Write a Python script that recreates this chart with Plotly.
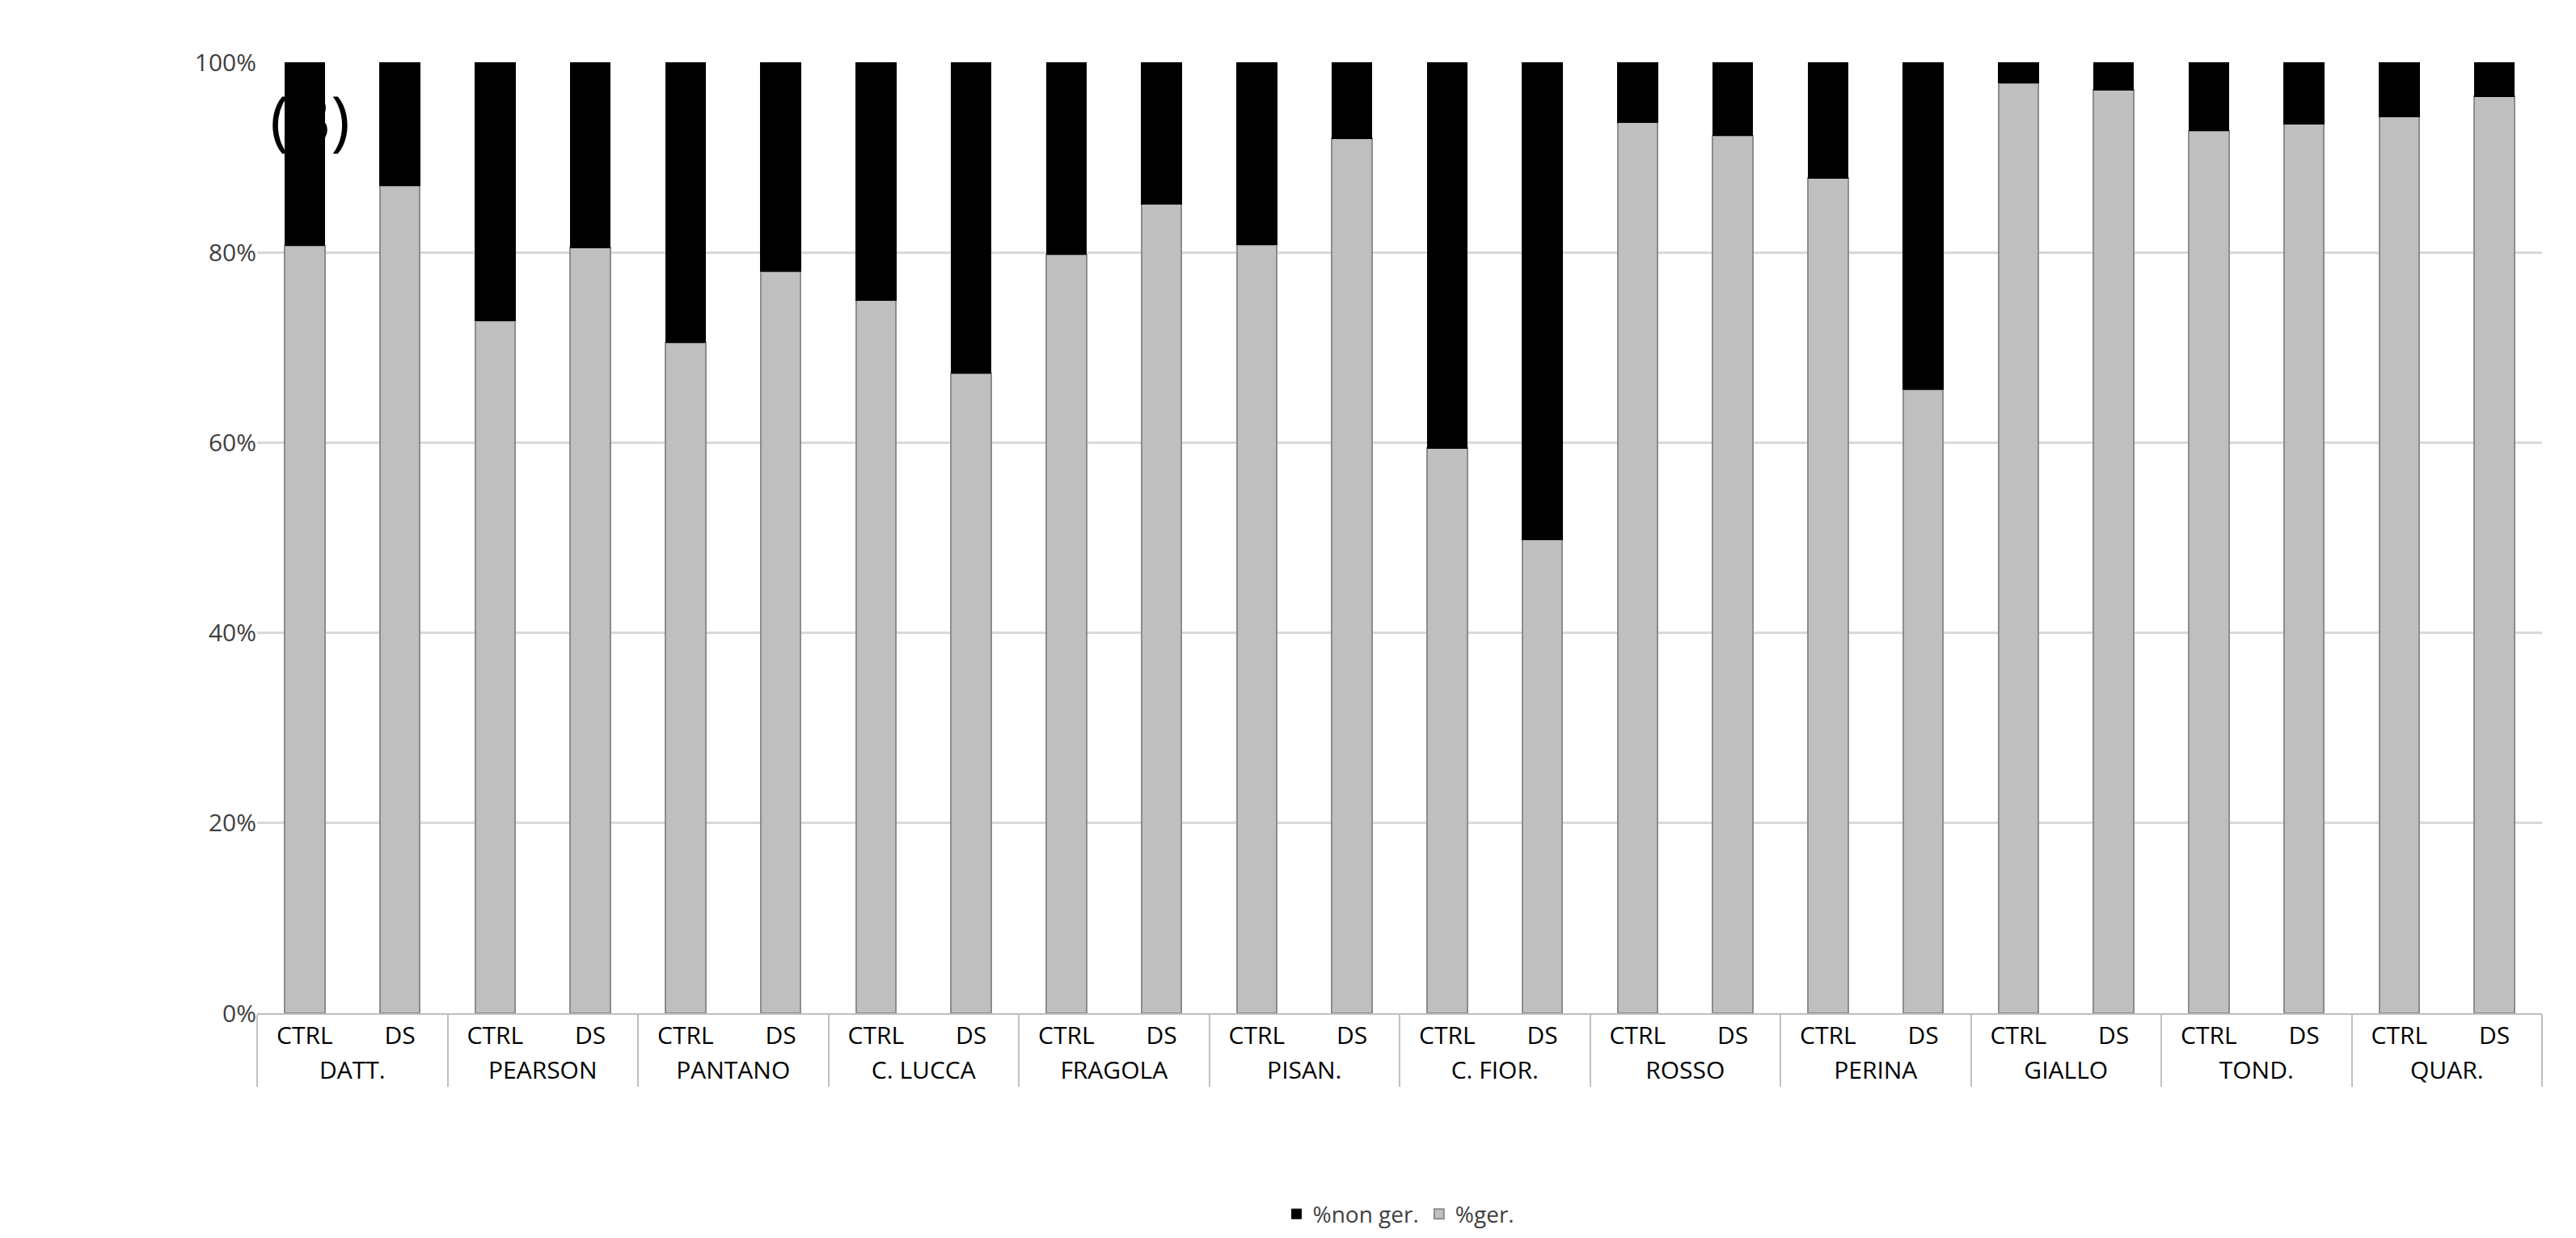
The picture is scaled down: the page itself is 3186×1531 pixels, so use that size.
import plotly.graph_objects as go

varieties = ["DATT.", "PEARSON", "PANTANO", "C. LUCCA", "FRAGOLA", "PISAN.", "C. FIOR.",
             "ROSSO", "PERINA", "GIALLO", "TOND.", "QUAR."]
treatments = ["CTRL", "DS"]
ger_ctrl = [80.7, 72.8, 70.5, 75.0, 79.8, 80.8, 59.4, 93.7, 87.8, 97.8, 92.8, 94.3]
ger_ds = [87.0, 80.5, 78.0, 67.3, 85.1, 92.0, 49.8, 92.3, 65.6, 97.1, 93.5, 96.4]

lvl1, lvl2, ger = [], [], []
for v, c, d in zip(varieties, ger_ctrl, ger_ds):
    lvl1 += [v, v]; lvl2 += treatments; ger += [c, d]
nonger = [100 - g for g in ger]

fig = go.Figure()
fig.add_bar(x=[lvl1, lvl2], y=ger, name="%ger.", marker=dict(color="#bfbfbf", line=dict(color="#8c8c8c", width=2)), width=0.42)
fig.add_bar(x=[lvl1, lvl2], y=nonger, name="%non ger.", marker=dict(color="#000000", line=dict(color="#000000", width=1)), width=0.42)
fig.update_layout(
    barmode="stack", width=3186, height=1531, plot_bgcolor="white", paper_bgcolor="white",
    margin=dict(l=310, r=50, t=69, b=275), bargap=0.58,
    font=dict(family="Open Sans", size=30, color="#404040"),
    legend=dict(orientation="h", x=0.5, xanchor="center", y=-0.19, yanchor="top", font=dict(size=28)),
    annotations=[dict(text="(B)", x=0.005, y=0.99, xref="paper", yref="paper", xanchor="left", yanchor="top",
                      showarrow=False, font=dict(size=80, color="#000000"))],
)
fig.update_yaxes(range=[0, 100], tickvals=[0, 20, 40, 60, 80, 100], ticktext=["0%", "20%", "40%", "60%", "80%", "100%"],
                 gridcolor="#d9d9d9", gridwidth=3, zeroline=False, ticks="", ticklen=20, tickcolor="white")
fig.update_xaxes(showline=True, linecolor="#bfbfbf", linewidth=2, showdividers=True, dividercolor="#bfbfbf", dividerwidth=2,
                 tickfont=dict(size=30, color="#000000"))
fig.layout.annotations[0].update(xref="paper")
fig.write_html("out.html")
